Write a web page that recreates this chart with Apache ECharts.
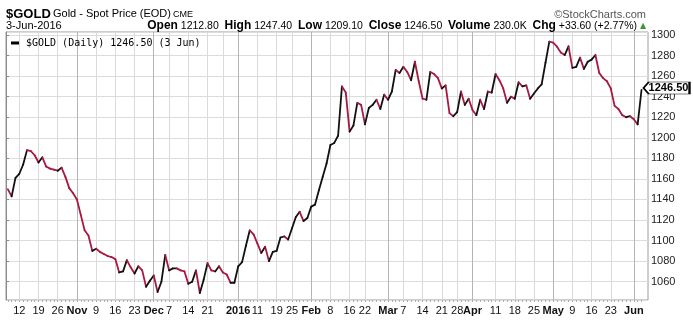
<!DOCTYPE html>
<html><head><meta charset="utf-8">
<script src="https://cdn.jsdelivr.net/npm/echarts@6/dist/echarts.min.js"></script>
<style>html,body{margin:0;padding:0;background:#fff}#c{width:693px;height:321px}</style>
</head><body><div id="c"></div>
<script>
// ---- data ----
const holidays = ['2015-11-26','2015-12-25','2016-01-01','2016-01-18','2016-02-15','2016-03-25','2016-05-30'];
const firstDay = '2015-10-07', lastDay = '2016-06-03';
const closes = [
 1150,1143,1161,
 1165,1174,1188,1187,1183,1176,1181,1172,1170,1169,
 1168,1171,1162,1151,1146,1140,1125,1110,1105,1090,
 1092,1089,1087,1085,1084,1082,1069,1070,1081,1074,
 1068,1075,1071,1055,1061,1066,1050,1060,1086,1071,
 1073,1073,1071,1070,1058,1060,1071,1049,1062,1078,
 1071,1070,1075,1069,1067,1059,1059,1075,1079,1095,
 1110,1106,1097,1088,1094,1080,1089,1090,1103,1104,
 1101,1112,1123,1128,1119,1122,1133,1135,1149,1162,
 1175,1193,1195,1202,1250,1244,1206,1212,1234,1232,
 1213,1229,1232,1237,1228,1242,1237,1245,1266,1263,
 1269,1264,1256,1274,1255,1238,1237,1264,1262,1258,
 1248,1251,1224,1221,1225,1245,1232,1238,1227,1222,
 1237,1228,1245,1244,1262,1256,1248,1234,1240,1238,
 1254,1250,1251,1238,1243,1248,1252,1273,1293.5,1292.5,
 1288.6,1283,1280.5,1289,1268,1269,1278,1267,1274,1276,
 1280.5,1263,1258,1255,1248,1231,1228,1222,1220,1221,
 1218,1213,1246.5
];
const tickDays = ['2015-10-12','2015-10-19','2015-10-26','2015-11-02','2015-11-09','2015-11-16','2015-11-23','2015-12-01','2015-12-07','2015-12-14','2015-12-21','2015-12-28','2016-01-04','2016-01-11','2016-01-19','2016-01-25','2016-02-01','2016-02-08','2016-02-16','2016-02-22','2016-03-01','2016-03-07','2016-03-14','2016-03-21','2016-03-28','2016-04-01','2016-04-11','2016-04-18','2016-04-25','2016-05-02','2016-05-09','2016-05-16','2016-05-23','2016-06-01'];
const tickLabels = ['12','19','26','Nov','9','16','23','Dec','7','14','21','','2016','11','19','25','Feb','8','16','22','Mar','7','14','21','28','Apr','11','18','25','May','9','16','23','Jun'];
const monthDays = ['2015-11-02','2015-12-01','2016-01-04','2016-02-01','2016-03-01','2016-04-01','2016-05-02','2016-06-01'];
const yTicks = [1060,1080,1100,1120,1140,1160,1180,1200,1220,1240,1260,1280,1300];
const lastLabel = '1246.50';
const legendName = '$GOLD (Daily) 1246.50 (3 Jun)';

// ---- build trading-day categories ----
const dates = [];
(function(){
  const s = Date.parse(firstDay+'T00:00:00Z'), e = Date.parse(lastDay+'T00:00:00Z');
  for (let t = s; t <= e; t += 86400000) {
    const d = new Date(t), wd = d.getUTCDay();
    if (wd === 0 || wd === 6) continue;
    const str = d.toISOString().slice(0,10);
    if (holidays.indexOf(str) >= 0) continue;
    dates.push(str);
  }
})();
const tickMap = {}; tickDays.forEach((d,k)=>tickMap[d]=tickLabels[k]);
const monthSet = {}; monthDays.forEach(d=>monthSet[d]=1);
const segData = closes.map((v,i)=>[i, v, i>0?closes[i-1]:v]);

const UP = '#111111', DOWN = '#a8183f';
const YMIN = 1042.2, YMAX = 1302.9;
const FONT = '"Liberation Sans", Arial, sans-serif';

const chart = echarts.init(document.getElementById('c'), null, {renderer:'canvas'});
chart.setOption({
  animation:false,
  textStyle:{fontFamily:FONT},
  grid:[
    {left:6, right:45, top:32, bottom:21, show:true, borderColor:'#9c9c9c', borderWidth:1, backgroundColor:'transparent'},
    {left:7.8, right:51.5, top:32, bottom:21}
  ],
  legend:{
    left:6, top:33, icon:'rect', itemWidth:8, itemHeight:3, itemGap:4,
    data:[{name:legendName}],
    textStyle:{fontFamily:'"DejaVu Sans Mono", monospace', fontSize:10, color:'#000', padding:[0,0,0,2]}
  },
  xAxis:[
    {gridIndex:0, type:'value', show:false, min:0, max:1},
    {gridIndex:1, type:'category', data:dates, boundaryGap:false,
     axisLine:{show:false},
     axisTick:{show:true, interval:0, length:2, lineStyle:{color:'#b0b0b0'}},
     axisLabel:{interval:(i,v)=>tickMap[v]!==undefined && tickMap[v]!=='', margin:5, fontSize:11, color:'#111',
       formatter:(v)=>{const l=tickMap[v]||''; return monthSet[v]?'{b|'+l+'}':l;},
       rich:{b:{fontWeight:'bold', fontSize:11, color:'#111', fontFamily:FONT}}},
     splitLine:{show:true, interval:(i,v)=>tickMap[v]!==undefined && !monthSet[v], lineStyle:{color:'#dadada', width:1}}
    },
    {gridIndex:1, type:'category', data:dates, boundaryGap:false,
     axisLine:{show:false}, axisTick:{show:false}, axisLabel:{show:false},
     splitLine:{show:true, interval:(i,v)=>!!monthSet[v], lineStyle:{color:'#b4b4b4', width:1}}
    }
  ],
  yAxis:[
    {gridIndex:0, type:'value', position:'right', min:YMIN, max:YMAX, splitNumber:13,
     axisLine:{show:true, lineStyle:{color:'#8a8a8a'}},
     axisTick:{show:true, length:3, lineStyle:{color:'#8a8a8a'}},
     axisLabel:{margin:3, fontSize:11, color:'#222', showMinLabel:false, showMaxLabel:false,
       formatter:(v)=> yTicks.indexOf(Math.round(v))>=0 && Math.abs(v-Math.round(v))<1e-6 ? String(Math.round(v)) : ''},
     splitLine:{show:true, lineStyle:{color:'#dcdcdc'}}
    },
    {gridIndex:1, type:'value', min:YMIN, max:YMAX, show:false, splitLine:{show:false}}
  ],
  series:[
    {type:'custom', name:legendName, xAxisIndex:1, yAxisIndex:1, data:segData, itemStyle:{color:'#000'},
     encode:{x:0, y:1},
     renderItem:(params, api)=>{
       const i = api.value(0);
       if (i === 0) return null;
       const cur = api.value(1), prev = api.value(2);
       const p0 = api.coord([i-1, prev]), p1 = api.coord([i, cur]);
       return {type:'line', shape:{x1:p0[0], y1:p0[1], x2:p1[0], y2:p1[1]},
         style:{stroke: cur >= prev ? UP : DOWN, lineWidth:1.8, lineCap:'round'}};
     }
    },
    {type:'scatter', xAxisIndex:1, yAxisIndex:1, clip:false, silent:true,
     data:[[dates.length-1, closes[closes.length-1]]],
     symbol:'path://M0,6 L6,0 L52,0 L52,12 L6,12 Z', symbolSize:[46,12], symbolKeepAspect:false, symbolOffset:[25,-2],
     itemStyle:{color:'#fff', borderColor:'#000', borderWidth:1.2, opacity:1},
     label:{show:true, position:'inside', offset:[2,0], formatter:lastLabel, fontWeight:'bold', fontSize:11, color:'#000', fontFamily:FONT},
     z:10}
  ],
  graphic:[
    {type:'text', x:6, y:14, style:{text:'$GOLD', fontSize:13, fontWeight:'bold', fontFamily:FONT, fill:'#000', verticalAlign:'middle'}},
    {type:'text', x:53, y:14, style:{text:'Gold - Spot Price (EOD)', fontSize:11, fontFamily:FONT, fill:'#000', verticalAlign:'middle'}},
    {type:'text', x:173, y:14.5, style:{text:'CME', fontSize:9, fontFamily:FONT, fill:'#000', verticalAlign:'middle'}},
    {type:'text', x:646, y:15, style:{text:'©StockCharts.com', fontSize:11, fontFamily:FONT, fill:'#555', align:'right', verticalAlign:'middle'}},
    {type:'text', x:6, y:26, style:{text:'3-Jun-2016', fontSize:11, fontFamily:FONT, fill:'#000', verticalAlign:'middle'}},
    {type:'text', x:637, y:26, style:{
      text:'{b|Open} 1212.80  {b|High} 1247.40  {b|Low} 1209.10  {b|Close} 1246.50  {b|Volume} 230.0K  {b|Chg} +33.60 (+2.77%)',
      fontSize:10.5, fontFamily:FONT, fill:'#000', align:'right', verticalAlign:'middle',
      rich:{b:{fontSize:12, fontWeight:'bold', fontFamily:FONT, fill:'#000'}}}},
    {type:'text', x:643, y:26, style:{text:'▲', fontSize:8, fontFamily:'DejaVu Sans', fill:'#3c963c', align:'center', verticalAlign:'middle'}}
  ]
});
</script></body></html>
